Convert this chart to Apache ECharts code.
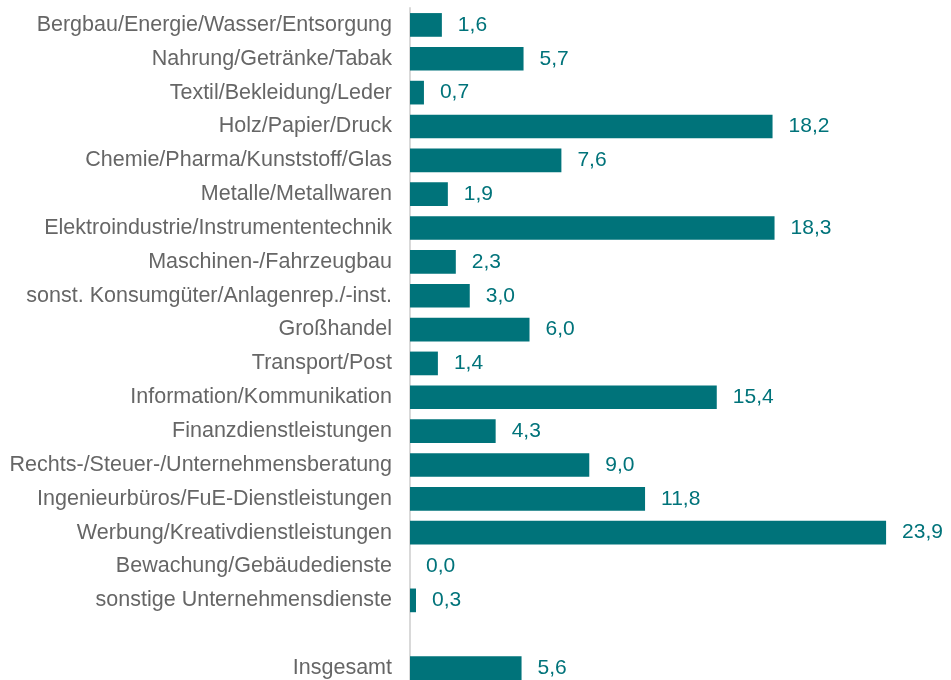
<!DOCTYPE html>
<html><head><meta charset="utf-8">
<script src="https://cdn.jsdelivr.net/npm/echarts@6/dist/echarts.min.js"></script>
<style>html,body{margin:0;padding:0;background:#fff;overflow:hidden}#c{width:951px;height:690px}</style>
</head><body><div id="c"></div>
<script>
const categories = [
  "Bergbau/Energie/Wasser/Entsorgung",
  "Nahrung/Getränke/Tabak",
  "Textil/Bekleidung/Leder",
  "Holz/Papier/Druck",
  "Chemie/Pharma/Kunststoff/Glas",
  "Metalle/Metallwaren",
  "Elektroindustrie/Instrumententechnik",
  "Maschinen-/Fahrzeugbau",
  "sonst. Konsumgüter/Anlagenrep./-inst.",
  "Großhandel",
  "Transport/Post",
  "Information/Kommunikation",
  "Finanzdienstleistungen",
  "Rechts-/Steuer-/Unternehmensberatung",
  "Ingenieurbüros/FuE-Dienstleistungen",
  "Werbung/Kreativdienstleistungen",
  "Bewachung/Gebäudedienste",
  "sonstige Unternehmensdienste",
  "",
  "Insgesamt"
];
const values = [1.6, 5.7, 0.7, 18.2, 7.6, 1.9, 18.3, 2.3, 3.0, 6.0, 1.4, 15.4, 4.3, 9.0, 11.8, 23.9, 0.0, 0.3, null, 5.6];

const chart = echarts.init(document.getElementById('c'));
const teal = '#00737A';
chart.setOption({
  animation: false,
  grid: { left: 410, right: 43, top: 8, height: 677, containLabel: false },
  xAxis: { type: 'value', min: 0, max: 25, show: false },
  yAxis: {
    type: 'category', inverse: true, data: categories,
    axisLine: { show: true, lineStyle: { color: '#D9D9D9', width: 2 } },
    axisTick: { show: false },
    axisLabel: { color: '#666666', fontSize: 21.5, fontFamily: 'Liberation Sans, Arial, sans-serif', margin: 18 }
  },
  series: [{
    type: 'bar', data: values, barCategoryGap: '30%',
    itemStyle: { color: teal },
    label: {
      show: true, position: 'right', distance: 16, color: teal, fontSize: 21,
      fontFamily: 'Liberation Sans, Arial, sans-serif',
      formatter: p => p.value == null ? '' : p.value.toFixed(1).replace('.', ',')
    }
  }]
});
</script></body></html>
